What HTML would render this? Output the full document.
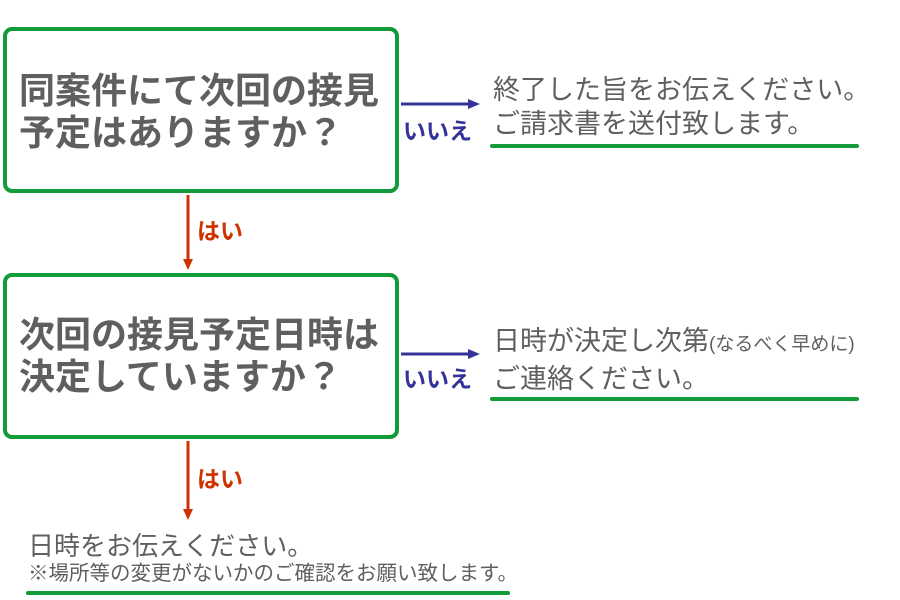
<!DOCTYPE html>
<html><head><meta charset="utf-8"><style>
body{margin:0;width:900px;height:600px;background:#fff;position:relative;overflow:hidden;font-family:"Liberation Sans","Noto Sans CJK JP",sans-serif;}
.box{position:absolute;left:3px;width:388px;height:158px;border:4px solid #139a3b;border-radius:9px;}
.q{position:absolute;left:19px;font-size:36px;font-weight:bold;color:#5f5f5f;line-height:42px;white-space:nowrap;letter-spacing:0px}
.t{position:absolute;color:#5f5f5f;font-size:27px;white-space:nowrap;line-height:34px}
.ul{position:absolute;height:4px;background:#139a3b;border-radius:2px}
.no{position:absolute;color:#333399;font-weight:bold;font-size:23px;white-space:nowrap}
.yes{position:absolute;color:#cc3300;font-weight:bold;font-size:23px;white-space:nowrap}
</style></head><body>
<div class="box" style="top:27px"></div>
<div class="q" style="top:70px">同案件にて次回の接見<br>予定はありますか？</div>
<div class="box" style="top:273px"></div>
<div class="q" style="top:314px">次回の接見予定日時は<br>決定していますか？</div>
<svg width="900" height="600" style="position:absolute;left:0;top:0">
<g stroke="#333399" stroke-width="3" fill="#333399">
<line x1="401" y1="104" x2="472" y2="104"/><polygon points="480,104 468,99 468,109" stroke="none"/>
<line x1="401" y1="354" x2="472" y2="354"/><polygon points="480,354 468,349 468,359" stroke="none"/>
</g>
<g stroke="#cc3300" stroke-width="3" fill="#cc3300">
<line x1="188" y1="195" x2="188" y2="262"/><polygon points="188,270 183,259 193,259" stroke="none"/>
<line x1="188" y1="441" x2="188" y2="512"/><polygon points="188,520 183,509 193,509" stroke="none"/>
</g>
</svg>
<div class="no" style="left:403px;top:112px">いいえ</div>
<div class="no" style="left:403px;top:360px">いいえ</div>
<div class="yes" style="left:197px;top:212px">はい</div>
<div class="yes" style="left:197px;top:460px">はい</div>
<div class="t" style="left:493px;top:73px">終了した旨をお伝えください。<br>ご請求書を送付致します。</div>
<div class="ul" style="left:490px;top:144px;width:369px"></div>
<div class="t" style="left:493px;top:324px">日時が決定し次第<span style="font-size:19px">(なるべく早めに)</span><br>ご連絡ください。</div>
<div class="ul" style="left:490px;top:397px;width:369px"></div>
<div class="t" style="left:28px;top:529px;font-size:26px">日時をお伝えください。</div>
<div class="t" style="left:28px;top:562px;font-size:20.5px;line-height:24px">※場所等の変更がないかのご確認をお願い致します。</div>
<div class="ul" style="left:26px;top:591px;width:484px"></div>
</body></html>
